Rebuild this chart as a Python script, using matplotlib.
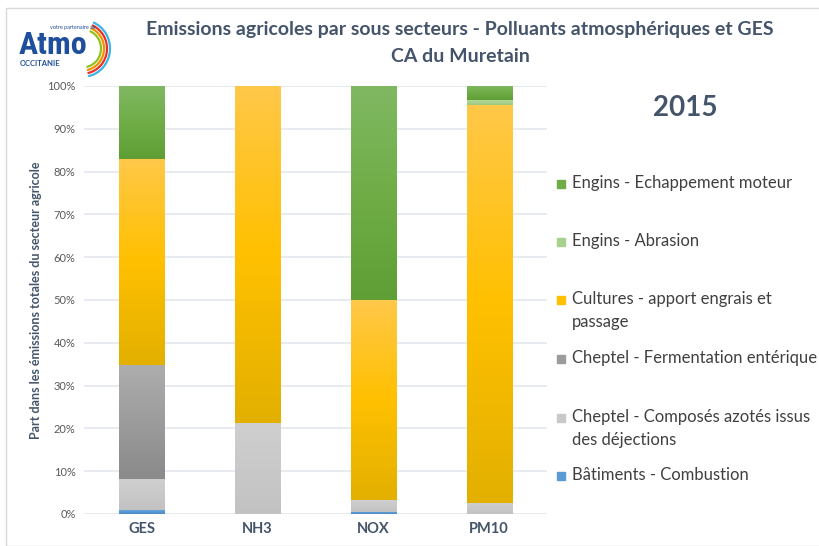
import numpy as np
import matplotlib.pyplot as plt
from matplotlib.colors import LinearSegmentedColormap, to_rgb
from matplotlib.patches import Arc, Rectangle

plt.rcParams['font.family'] = ['Lato', 'DejaVu Sans']

categories = ['GES', 'NH3', 'NOX', 'PM10']

# parts (%) de chaque sous-secteur, du bas vers le haut
batiments = [1.0, 0.0, 0.5, 0.0]
cheptel_azote = [7.2, 21.3, 2.8, 2.6]
cheptel_ferment = [26.6, 0.0, 0.0, 0.0]
cultures = [48.2, 78.7, 46.7, 93.0]
engins_abrasion = [0.0, 0.0, 0.0, 1.1]
engins_echap = [17.0, 0.0, 50.0, 3.3]

series = [
    ('Bâtiments - Combustion', batiments, ('#6aaae0', '#5b9bd5', '#4a88c0')),
    ('Cheptel - Composés azotés issus\ndes déjections', cheptel_azote, ('#cfcfcf', '#c9c9c9', '#c2c2c2')),
    ('Cheptel - Fermentation entérique', cheptel_ferment, ('#adadad', '#9c9c9c', '#8a8a8a')),
    ('Cultures - apport engrais et\npassage', cultures, ('#ffc848', '#ffc000', '#e3b000')),
    ('Engins - Abrasion', engins_abrasion, ('#b3d99a', '#a9d18e', '#9cc680')),
    ('Engins - Echappement moteur', engins_echap, ('#80b862', '#70ad47', '#5f9e35')),
]

title_col = '#44546a'

fig = plt.figure(figsize=(8.19, 5.46), dpi=100)
ax = fig.add_axes([84 / 819, 1 - 514 / 546, 463 / 819, 428 / 546])

x = np.arange(len(categories))
bottom = np.zeros(len(categories))
for name, vals, cols in series:
    vals = np.array(vals)
    bars = ax.bar(x, vals, 0.39, bottom=bottom, color=cols[1], label=name,
                  edgecolor='none', zorder=2)
    cmap = LinearSegmentedColormap.from_list(name, [to_rgb(c) for c in cols[::-1]])
    grad = np.linspace(0, 1, 64).reshape(-1, 1)
    for b, v in zip(bars, vals):
        if v <= 0:
            continue
        bx, by = b.get_x(), b.get_y()
        im = ax.imshow(grad, cmap=cmap, aspect='auto', origin='lower',
                       extent=(bx, bx + b.get_width(), by, by + b.get_height()),
                       zorder=3)
        im.set_clip_path(b)
    bottom += vals

ax.set_xlim(-0.5, 3.5)
ax.set_ylim(0, 100)
ax.set_yticks(np.arange(0, 101, 10))
ax.set_yticklabels([f'{v}%' for v in range(0, 101, 10)], color='#595959', fontsize=8)
ax.set_xticks(x)
ax.set_xticklabels(categories, fontsize=10.5, fontweight='bold', color=title_col)
ax.tick_params(length=0, pad=6)
ax.grid(axis='y', color='#e4e7ee', linewidth=1.2, zorder=0)
for s in ax.spines.values():
    s.set_visible(False)
ax.set_ylabel('Part dans les émissions totales du secteur agricole', fontsize=9,
              fontweight='bold', color=title_col, labelpad=4)

fig.text(460 / 819, 1 - 30 / 546, 'Emissions agricoles par sous secteurs - Polluants atmosphériques et GES',
         ha='center', va='center', fontsize=14, fontweight='bold', color=title_col)
fig.text(460 / 819, 1 - 57 / 546, 'CA du Muretain', ha='center', va='center',
         fontsize=14, fontweight='bold', color=title_col)
fig.text(685 / 819, 1 - 108 / 546, '2015', ha='center', va='center', fontsize=20,
         fontweight='bold', color=title_col)

# légende à la main (ordre inverse, alignée sur la 1re ligne)
leg_y = [476, 418, 359, 300, 242, 184]
for (name, vals, cols), yy in zip(series, leg_y):
    fig.add_artist(Rectangle((557 / 819, 1 - (yy + 4) / 546), 8 / 819, 8 / 546,
                             transform=fig.transFigure, color=cols[1]))
    fig.text(572 / 819, 1 - (yy - 9) / 546, name, fontsize=12, color='#404040',
             va='top', ha='left', linespacing=1.55)

# logo Atmo
fig.text(19 / 819, 1 - 45 / 546, 'Atmo', fontsize=23, color='#1f4e9c', va='center',
         fontweight='bold', family=['Roboto Condensed', 'Liberation Sans Narrow', 'Lato'])
fig.text(50 / 819, 1 - 27 / 546, 'votre partenaire air', fontsize=4, color='#1f4e9c', va='center')
fig.text(20 / 819, 1 - 64 / 546, 'OCCITANIE', fontsize=5.5, color='#1f4e9c', va='center',
         fontweight='bold')
lax = fig.add_axes([62 / 819, 1 - 77 / 546, 60 / 819, 57 / 546])
lax.set_xlim(0, 1)
lax.set_ylim(0, 1)
lax.axis('off')
for r, c in [(0.9, '#3cb4e6'), (0.8, '#e8312a'), (0.7, '#f39200'), (0.6, '#95c11f')]:
    lax.add_patch(Arc((0.35, 0.5), r, r * 1.1, theta1=-80, theta2=70, color=c, lw=1.6))

fig.add_artist(Rectangle((6 / 819, 0), 1, 1 - 8 / 546, transform=fig.transFigure,
                         fill=False, edgecolor='#d9d9d9', lw=1))

fig.savefig('out.png', dpi=100)
